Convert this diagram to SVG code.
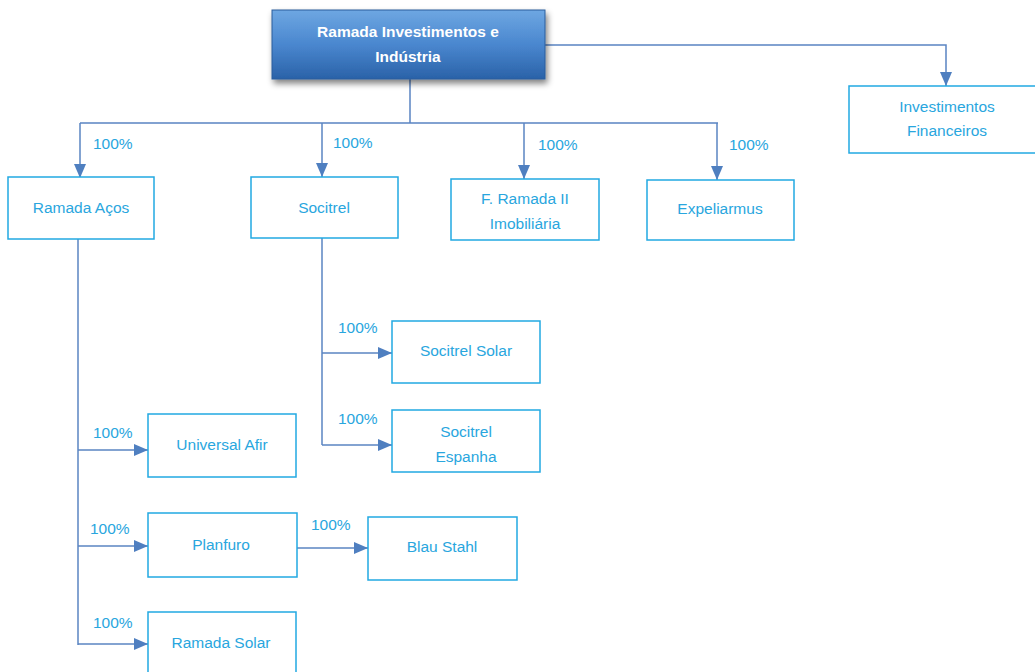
<svg xmlns="http://www.w3.org/2000/svg" width="1035" height="672" viewBox="0 0 1035 672">
<defs>
<linearGradient id="tg" x1="0" y1="0" x2="0" y2="1">
<stop offset="0" stop-color="#6EA7E2"/>
<stop offset="0.5" stop-color="#4A87CF"/>
<stop offset="1" stop-color="#2A62A8"/>
</linearGradient>
<filter id="sh" x="-10%" y="-20%" width="120%" height="150%">
<feGaussianBlur in="SourceAlpha" stdDeviation="3"/>
<feOffset dx="2" dy="4" result="b"/>
<feComponentTransfer><feFuncA type="linear" slope="0.5"/></feComponentTransfer>
<feMerge><feMergeNode/><feMergeNode in="SourceGraphic"/></feMerge>
</filter>
<marker id="ar" viewBox="0 0 14 12" refX="14" refY="6" markerWidth="14" markerHeight="12" markerUnits="userSpaceOnUse" orient="auto">
<path d="M0,0 L14,6 L0,12 z" fill="#4F7FC0"/>
</marker>
</defs>
<style>
.bx{fill:#fff;stroke:#22A9E2;stroke-width:1.5}
.t{font-family:"Liberation Sans",Arial,sans-serif;font-size:15.5px;fill:#29A6DE;text-anchor:middle}
.p{font-family:"Liberation Sans",Arial,sans-serif;font-size:15.5px;fill:#29A6DE}
.c{fill:none;stroke:#5A84C2;stroke-width:1.5}
.ca{fill:none;stroke:#5A84C2;stroke-width:1.5;marker-end:url(#ar)}
.tt{font-family:"Liberation Sans",Arial,sans-serif;font-size:15.5px;font-weight:bold;fill:#fff;text-anchor:middle}
</style>
<rect width="1035" height="672" fill="#fff"/>
<g id="connectors">
<path class="c" d="M410,79 V123 M80,123 H718"/>
<path class="ca" d="M80,123 V178"/>
<path class="ca" d="M322,123 V177"/>
<path class="ca" d="M524,123 V179"/>
<path class="ca" d="M717,123 V180"/>
<path class="ca" d="M545,45 H946 V86"/>
<path class="c" d="M78,239 V645"/>
<path class="ca" d="M78,450 H148"/>
<path class="ca" d="M78,546 H148"/>
<path class="ca" d="M78,644 H148"/>
<path class="c" d="M322,238 V445"/>
<path class="ca" d="M322,353 H392"/>
<path class="ca" d="M322,445 H392"/>
<path class="ca" d="M297,548 H368"/>
<text class="p" x="93" y="149">100%</text>
<text class="p" x="333" y="148">100%</text>
<text class="p" x="538" y="150">100%</text>
<text class="p" x="729" y="150">100%</text>
<text class="p" x="338" y="333">100%</text>
<text class="p" x="338" y="424">100%</text>
<text class="p" x="93" y="438">100%</text>
<text class="p" x="90" y="534">100%</text>
<text class="p" x="311" y="530">100%</text>
<text class="p" x="93" y="628">100%</text>
</g>
<g id="ramada-investimentos">
<rect x="272" y="10" width="273" height="69" fill="url(#tg)" stroke="#2A5C9C" stroke-width="1" filter="url(#sh)"/>
<text class="tt" x="408" y="37">Ramada Investimentos e</text>
<text class="tt" x="408" y="62">Indústria</text>
</g>
<g id="investimentos-financeiros">
<rect class="bx" x="849" y="86" width="190" height="67"/>
<text class="t" x="947" y="112">Investimentos</text>
<text class="t" x="947" y="136">Financeiros</text>
</g>
<g id="ramada-acos">
<rect class="bx" x="8" y="177" width="146" height="62"/>
<text class="t" x="81" y="213">Ramada Aços</text>
</g>
<g id="socitrel">
<rect class="bx" x="251" y="177" width="147" height="61"/>
<text class="t" x="324" y="213">Socitrel</text>
</g>
<g id="f-ramada-ii">
<rect class="bx" x="451" y="179" width="148" height="61"/>
<text class="t" x="525" y="204">F. Ramada II</text>
<text class="t" x="525" y="229">Imobiliária</text>
</g>
<g id="expeliarmus">
<rect class="bx" x="647" y="180" width="147" height="60"/>
<text class="t" x="720" y="214">Expeliarmus</text>
</g>
<g id="socitrel-solar">
<rect class="bx" x="392" y="321" width="148" height="62"/>
<text class="t" x="466" y="356">Socitrel Solar</text>
</g>
<g id="socitrel-espanha">
<rect class="bx" x="392" y="410" width="148" height="62"/>
<text class="t" x="466" y="437">Socitrel</text>
<text class="t" x="466" y="462">Espanha</text>
</g>
<g id="universal-afir">
<rect class="bx" x="148" y="414" width="148" height="63"/>
<text class="t" x="222" y="450">Universal  Afir</text>
</g>
<g id="planfuro">
<rect class="bx" x="148" y="513" width="149" height="64"/>
<text class="t" x="221" y="550">Planfuro</text>
</g>
<g id="blau-stahl">
<rect class="bx" x="368" y="517" width="149" height="63"/>
<text class="t" x="442" y="552">Blau Stahl</text>
</g>
<g id="ramada-solar">
<rect class="bx" x="148" y="612" width="148" height="64"/>
<text class="t" x="221" y="648">Ramada Solar</text>
</g>
</svg>
